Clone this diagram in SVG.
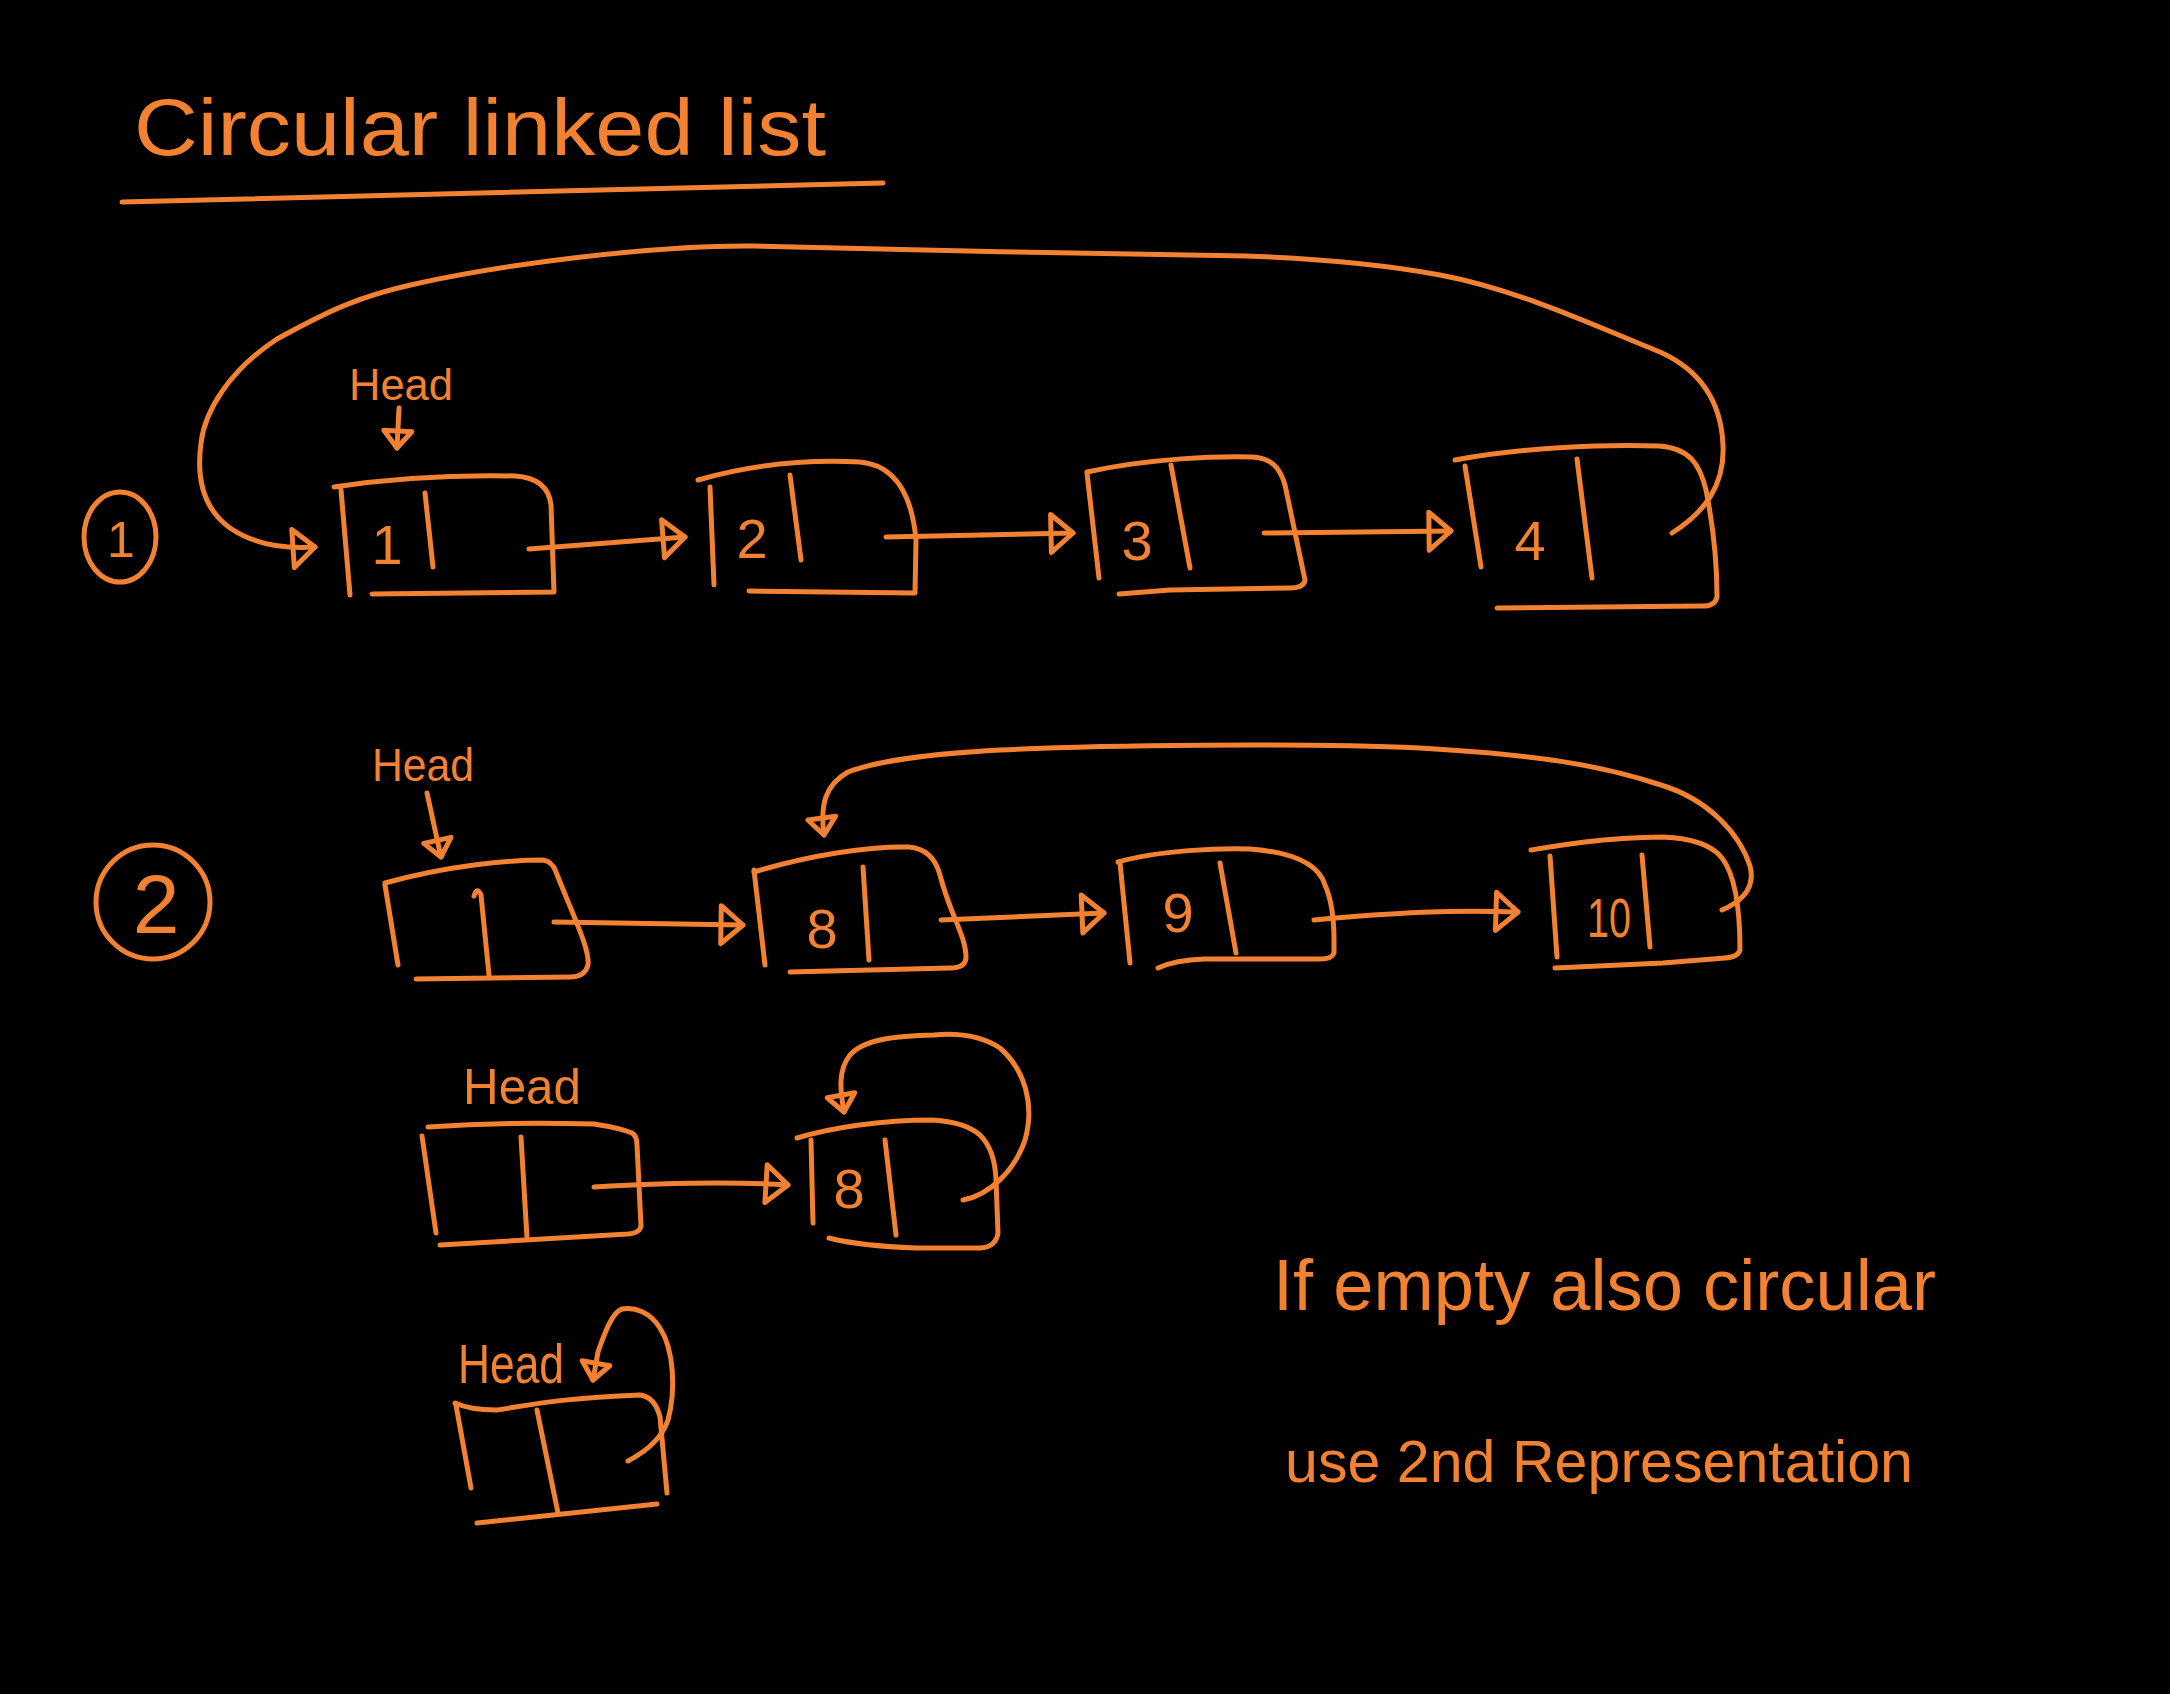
<svg xmlns="http://www.w3.org/2000/svg" width="2170" height="1694" viewBox="0 0 2170 1694">
<style>
.s{fill:none;stroke:#F28232;stroke-width:5;stroke-linecap:round;stroke-linejoin:round}
.t{font-family:"Liberation Sans",Arial,sans-serif;fill:#F28232}
.v{font-family:"Liberation Sans",Arial,sans-serif;fill:#F28232;font-size:56px;text-anchor:middle}
.c{fill:none;stroke:#F28232;stroke-width:5;stroke-linecap:round;stroke-linejoin:round;marker-end:url(#ah)}
.cs{fill:none;stroke:#F28232;stroke-width:5;stroke-linecap:round;stroke-linejoin:round;marker-end:url(#ahs)}
</style>
<defs>
<marker id="ah" viewBox="-30 -26 36 52" refX="0" refY="0" markerWidth="36" markerHeight="52" markerUnits="userSpaceOnUse" orient="auto" style="overflow:visible">
<path d="M-22,-19 L0,0 L-22,19 Z" fill="none" stroke="#F28232" stroke-width="5" stroke-linejoin="round" stroke-linecap="round"/>
</marker>
<marker id="ahs" viewBox="-24 -20 30 40" refX="0" refY="0" markerWidth="30" markerHeight="40" markerUnits="userSpaceOnUse" orient="auto" style="overflow:visible">
<path d="M-17,-14 L0,0 L-17,14 Z" fill="none" stroke="#F28232" stroke-width="5" stroke-linejoin="round" stroke-linecap="round"/>
</marker>
</defs>
<rect x="0" y="0" width="2170" height="1694" fill="#000000"/>

<g id="title">
<text class="t" x="134" y="155" font-size="80" textLength="692" lengthAdjust="spacingAndGlyphs">Circular linked list</text>
<path class="s" d="M122,202 Q500,192 883,183"/>
</g>

<g id="label-1">
<ellipse class="s" cx="120" cy="537" rx="36" ry="45"/>
<text class="t" x="121" y="557" font-size="50" text-anchor="middle">1</text>
</g>
<g id="label-2">
<ellipse class="s" cx="153" cy="902" rx="57" ry="57"/>
<text class="t" x="156" y="933" font-size="84" text-anchor="middle">2</text>
</g>

<g id="head-1">
<text class="t" x="349" y="400" font-size="45" textLength="104" lengthAdjust="spacingAndGlyphs">Head</text>
</g>
<g id="head-2">
<text class="t" x="372" y="781" font-size="46" textLength="102" lengthAdjust="spacingAndGlyphs">Head</text>
</g>
<g id="head-3">
<text class="t" x="463" y="1104" font-size="50" textLength="118" lengthAdjust="spacingAndGlyphs">Head</text>
</g>
<g id="head-4">
<text class="t" x="458" y="1383" font-size="55" textLength="106" lengthAdjust="spacingAndGlyphs">Head</text>
</g>

<g id="node-1">
<path class="s" d="M334,487 Q420,474 515,476 Q548,478 551,505 L554,592 L372,594"/>
<path class="s" d="M341,490 L350,595"/>
<path class="s" d="M425,493 L433,567"/>
<text class="v" x="387" y="564">1</text>
</g>
<g id="node-2">
<path class="s" d="M698,480 C760,462 820,460 860,462 C895,465 912,495 916,540 L915,593 L749,591"/>
<path class="s" d="M710,487 L714,585"/>
<path class="s" d="M790,475 L801,560"/>
<text class="v" x="752" y="558">2</text>
</g>
<g id="node-3">
<path class="s" d="M1087,472 C1150,458 1220,456 1252,457 C1272,458 1280,468 1285,485 L1305,580 Q1304,588 1290,588 L1170,590 L1119,594"/>
<path class="s" d="M1087,473 L1099,578"/>
<path class="s" d="M1171,465 L1190,568"/>
<text class="v" x="1137" y="560">3</text>
</g>
<g id="node-4">
<path class="s" d="M1455,460 C1520,448 1600,444 1659,446 C1690,448 1700,465 1706,490 C1714,530 1717,570 1717,597 Q1715,607 1700,606 L1497,608"/>
<path class="s" d="M1465,466 L1481,567"/>
<path class="s" d="M1577,459 L1592,578"/>
<text class="v" x="1530" y="560" font-size="64">4</text>
</g>

<g id="node-a">
<path class="s" d="M385,883 C450,865 510,860 543,860 Q552,861 556,872 C575,920 590,950 588,965 Q585,977 570,977 L416,979"/>
<path class="s" d="M385,885 L398,965"/>
<path class="s" d="M474,896 Q477,886 481,895 L489,975"/>
</g>
<g id="node-8">
<path class="s" d="M754,872 C810,855 870,846 909,847 Q933,849 940,875 C950,915 966,935 966,958 Q965,968 950,968 L790,972"/>
<path class="s" d="M754,870 L765,965"/>
<path class="s" d="M863,867 L869,960"/>
<text class="v" x="822" y="948" font-size="60">8</text>
</g>
<g id="node-9">
<path class="s" d="M1118,862 C1160,850 1220,848 1250,849 C1290,852 1318,862 1325,885 Q1334,905 1334,940 L1334,953 Q1332,959 1320,959 L1204,959 Q1175,960 1158,968"/>
<path class="s" d="M1120,863 L1130,963"/>
<path class="s" d="M1220,863 L1236,953"/>
<text class="v" x="1178" y="932" font-size="60">9</text>
</g>
<g id="node-10">
<path class="s" d="M1531,850 C1560,845 1600,838 1663,837 C1690,838 1712,845 1722,858 C1735,875 1740,910 1740,950 Q1738,957 1725,958 L1663,963 L1555,968"/>
<path class="s" d="M1550,856 L1557,957"/>
<path class="s" d="M1642,855 L1650,947"/>
<text class="v" x="1609" y="937" font-size="58" textLength="44" lengthAdjust="spacingAndGlyphs">10</text>
</g>

<g id="node-b">
<path class="s" d="M428,1127 C470,1124 530,1122 594,1124 Q620,1128 632,1133 Q637,1136 637,1145 L641,1226 Q640,1233 628,1234 L440,1245"/>
<path class="s" d="M422,1136 L436,1233"/>
<path class="s" d="M521,1137 L527,1238"/>
</g>
<g id="node-8b">
<path class="s" d="M797,1138 C830,1128 880,1120 933,1120 Q965,1122 980,1135 Q995,1150 996,1180 L998,1233 Q996,1247 980,1248 L916,1248 Q860,1246 829,1238"/>
<path class="s" d="M811,1140 L813,1223"/>
<path class="s" d="M885,1140 L896,1235"/>
<text class="v" x="849" y="1208" font-size="56">8</text>
</g>
<g id="node-c">
<path class="s" d="M455,1403 Q470,1410 497,1410 C530,1405 560,1398 640,1395 Q655,1397 660,1417 L667,1493"/>
<path class="s" d="M456,1405 L471,1488"/>
<path class="s" d="M537,1410 L558,1513"/>
<path class="s" d="M477,1523 L657,1504"/>
</g>

<g id="note">
<text class="t" x="1273" y="1310" font-size="72" textLength="663" lengthAdjust="spacingAndGlyphs">If empty also circular</text>
<text class="t" x="1285" y="1482" font-size="60" textLength="628" lengthAdjust="spacingAndGlyphs">use 2nd Representation</text>
</g>

<g id="connectors">
<path class="cs" d="M399,408 L397,448"/>
<path class="c" d="M529,549 L685,537"/>
<path class="c" d="M886,537 L1073,533"/>
<path class="c" d="M1264,533 L1451,531"/>
<path class="c" d="M1672,533 C1705,512 1725,485 1723,445 C1721,400 1700,370 1660,352 C1600,328 1520,290 1440,275 C1370,262 1300,258 1246,256 C1100,254 900,250 754,246 C650,245 500,265 415,284 C360,296 330,310 277,339 C230,370 205,410 201,443 C196,480 205,510 230,528 C255,545 285,549 315,547"/>
<path class="cs" d="M427,793 L441,857"/>
<path class="c" d="M554,922 L743,925"/>
<path class="c" d="M941,920 L1104,913"/>
<path class="c" d="M1314,920 C1400,912 1450,910 1518,912"/>
<path class="cs" d="M1722,910 C1745,900 1755,885 1750,866 C1740,835 1710,800 1661,785 C1600,765 1540,755 1420,748 C1300,743 1100,745 1000,750 C930,754 880,760 848,772 C825,785 820,805 824,835"/>
<path class="c" d="M594,1187 C680,1182 740,1182 788,1185"/>
<path class="cs" d="M963,1200 C990,1195 1015,1170 1025,1140 C1035,1105 1025,1070 1000,1048 C980,1035 955,1033 934,1035 C900,1036 865,1038 850,1055 C838,1070 840,1090 844,1112"/>
<path class="cs" d="M628,1461 C645,1452 662,1438 668,1420 C676,1390 674,1350 660,1328 C650,1312 635,1307 622,1309 C612,1312 604,1335 598,1352 L593,1380"/>
</g>
</svg>
